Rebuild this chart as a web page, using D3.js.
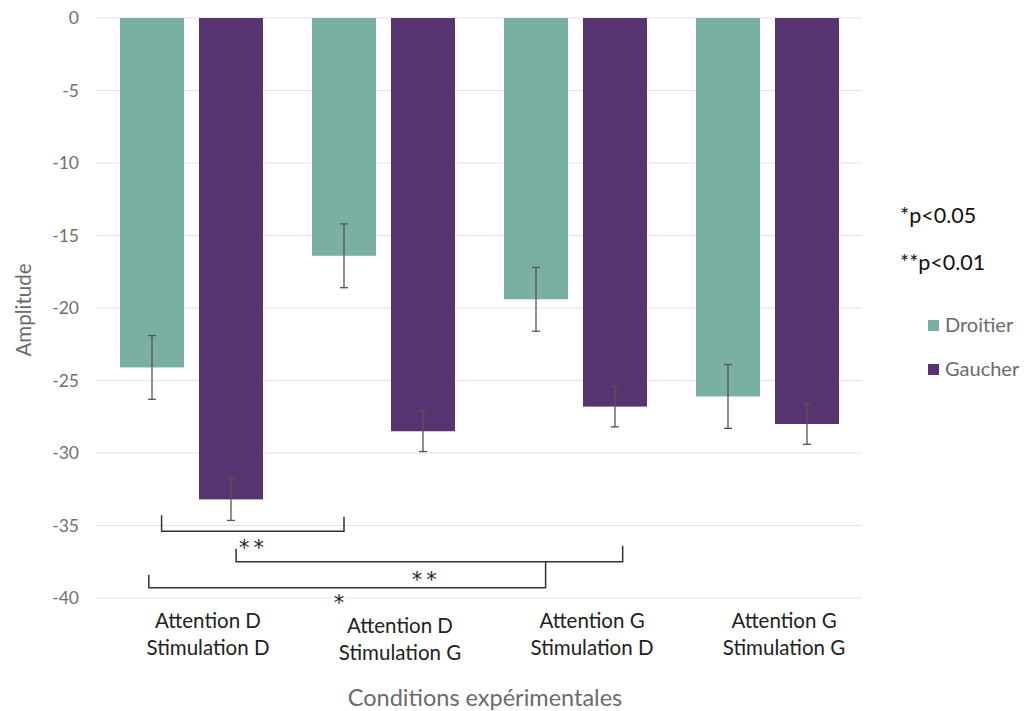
<!DOCTYPE html>
<html><head><meta charset="utf-8">
<script src="https://cdn.jsdelivr.net/npm/d3@7"></script>
<style>body{margin:0;background:#fff}svg{display:block}text{font-family:Lato,"Open Sans",sans-serif}</style>
</head><body>
<svg id="c" width="1031" height="711"></svg>
<script>
const categories = [["Attention D","Stimulation D"],["Attention D","Stimulation G"],["Attention G","Stimulation D"],["Attention G","Stimulation G"]];
const series = ["Droitier","Gaucher"];
const droitier = [-24.1,-16.4,-19.4,-26.1];
const gaucher = [-33.2,-28.5,-26.8,-28.0];
const droitierErr = [2.2,2.2,2.2,2.2];
const gaucherErr = [1.45,1.4,1.4,1.4];
const yTicks = [0,-5,-10,-15,-20,-25,-30,-35,-40];
// significance brackets: [cat, series, offset] -> [cat, series, offset], bar level, tick tops, label
const brackets = [
  {from:[0,0,0.15], to:[1,0,0], y:-35.4, tl:-34.3, tr:-34.4, label:"**", lx:[0,1,0.35], ly:-36.3},
  {from:[0,1,0.08], to:[2,1,0.12], y:-37.5, tl:-36.6, tr:-36.4, label:"**", lx:[1,1,0.05], ly:-38.5},
  {from:[0,0,-0.05], to:[2,0,0.15], y:-39.3, tl:-38.4, tr:-37.5, label:"*", lx:[0,1,1.72], ly:-40.1}
];
const pNotes = ["*p<0.05","**p<0.01"];
const colors = ["#7aafa3","#573470"];

const svg = d3.select("#c");
const y = d3.scaleLinear().domain([-40,0]).range([598,18]);
const x0 = d3.scaleBand().domain(d3.range(categories.length)).range([96,864]).padding(0);
const x1 = d3.scaleBand().domain(d3.range(series.length)).range([24,167]).paddingInner(0.19).paddingOuter(0);
const cx = (c,s,o) => x0(c)+x1(s)+x1.bandwidth()/2 + o*x1.bandwidth();

// gridlines
svg.append("g").selectAll("line").data(yTicks).join("line")
  .attr("x1",96).attr("x2",862).attr("y1",d=>y(d)).attr("y2",d=>y(d))
  .attr("stroke","#e3e3e3").attr("stroke-width",1.2);

// y axis labels
const ya = svg.append("g").attr("transform","translate(79,0)")
  .call(d3.axisLeft(y).tickValues(yTicks).tickSize(0).tickPadding(0).tickFormat(d=>String(d)));
ya.select(".domain").remove();
ya.selectAll("text").attr("font-size",17.5).attr("fill","#707070").style("font-family","Lato,sans-serif");

// bars
const vals = [droitier,gaucher], errs=[droitierErr,gaucherErr];
series.forEach((s,si)=>{
  svg.append("g").selectAll("rect").data(vals[si]).join("rect")
    .attr("x",(d,i)=>x0(i)+x1(si)).attr("width",x1.bandwidth())
    .attr("y",y(0)).attr("height",d=>y(d)-y(0)).attr("fill",colors[si]);
});
// error bars
series.forEach((s,si)=>{
  const g = svg.append("g").attr("stroke","#555").attr("stroke-width",1.3);
  vals[si].forEach((v,i)=>{
    const c = cx(i,si,0), e = errs[si][i];
    g.append("line").attr("x1",c).attr("x2",c).attr("y1",y(v+e)).attr("y2",y(v-e));
    g.append("line").attr("x1",c-4).attr("x2",c+4).attr("y1",y(v+e)).attr("y2",y(v+e));
    g.append("line").attr("x1",c-4).attr("x2",c+4).attr("y1",y(v-e)).attr("y2",y(v-e));
  });
});

// brackets
brackets.forEach(b=>{
  const xa = cx(...b.from), xb = cx(...b.to);
  svg.append("path").attr("fill","none").attr("stroke","#333").attr("stroke-width",1.5)
    .attr("d",`M${xa},${y(b.tl)}V${y(b.y)}H${xb}V${y(b.tr)}`);
  svg.append("text").attr("x",cx(...b.lx)).attr("y",y(b.ly)+11).attr("text-anchor","middle")
    .attr("font-size",21).attr("fill","#222").attr("letter-spacing",4)
    .style("font-family","'DejaVu Sans',sans-serif").text(b.label);
});

// category labels
const labDy = [0,5,0,0];
categories.forEach((lines,i)=>{
  const t = svg.append("text").attr("text-anchor","middle").attr("font-size",20.5).attr("fill","#222");
  lines.forEach((l,k)=>t.append("tspan").attr("x",x0(i)+x0.bandwidth()/2+16)
    .attr("y",628+labDy[i]+k*27).text(l));
});

// axis titles
svg.append("text").attr("x",485).attr("y",706).attr("text-anchor","middle").attr("font-size",23.5)
  .attr("fill","#6b6b6b").text("Conditions expérimentales");
svg.append("text").attr("transform","translate(31,310) rotate(-90)").attr("text-anchor","middle")
  .attr("font-size",20.5).attr("fill","#6b6b6b").text("Amplitude");

// p-notes
pNotes.forEach((p,i)=>svg.append("text").attr("x",900).attr("y",223+i*47).attr("font-size",21.5)
  .attr("fill","#111").text(p));
// legend
series.forEach((s,i)=>{
  svg.append("rect").attr("x",928).attr("y",320+i*44).attr("width",11).attr("height",11).attr("fill",colors[i]);
  svg.append("text").attr("x",945).attr("y",332+i*44).attr("font-size",20).attr("fill","#6b6b6b").text(s);
});
</script>
</body></html>
